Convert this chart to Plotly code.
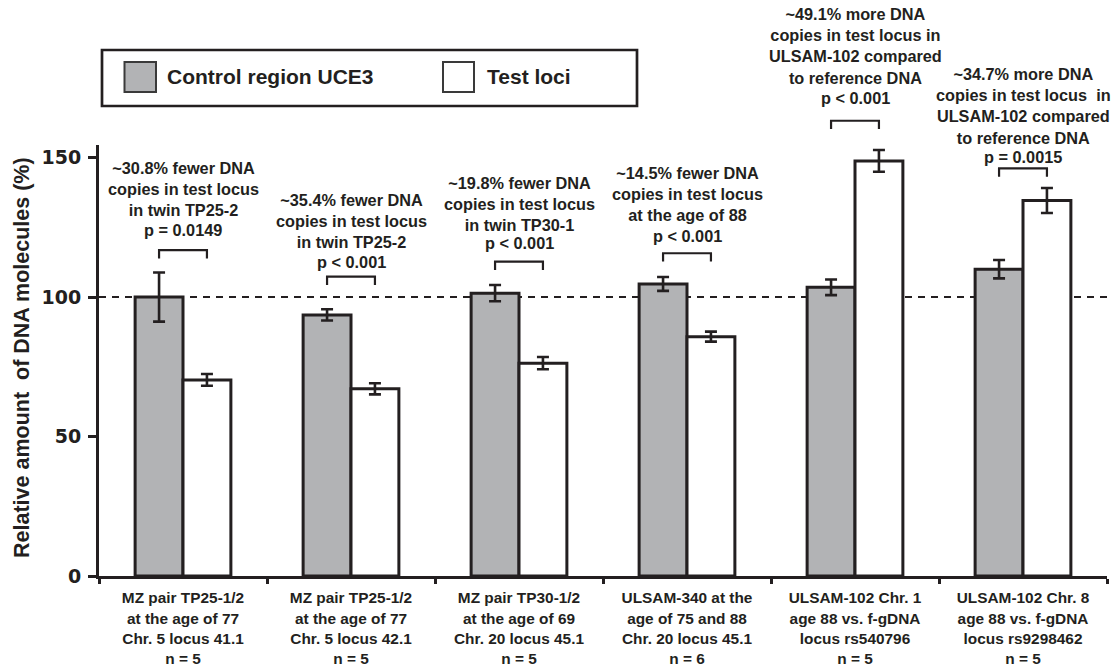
import plotly.graph_objects as go

# ---------------- data ----------------
categories = [
    "MZ pair TP25-1/2<br>at the age of 77<br>Chr. 5 locus 41.1<br>n = 5",
    "MZ pair TP25-1/2<br>at the age of 77<br>Chr. 5 locus 42.1<br>n = 5",
    "MZ pair TP30-1/2<br>at the age of 69<br>Chr. 20 locus 45.1<br>n = 5",
    "ULSAM-340 at the<br>age of 75 and 88<br>Chr. 20 locus 45.1<br>n = 6",
    "ULSAM-102 Chr. 1<br>age 88 vs. f-gDNA<br>locus rs540796<br>n = 5",
    "ULSAM-102 Chr. 8<br>age 88 vs. f-gDNA<br>locus rs9298462<br>n = 5",
]
control_values = [100.0, 93.6, 101.4, 104.7, 103.5, 110.0]
control_err = [8.8, 2.0, 2.9, 2.5, 2.8, 3.3]
test_values = [70.3, 67.1, 76.3, 85.8, 148.8, 134.6]
test_err = [2.1, 2.0, 2.2, 1.8, 3.9, 4.5]
notes = [
    "~30.8% fewer DNA<br>copies in test locus<br>in twin TP25-2",
    "~35.4% fewer DNA<br>copies in test locus<br>in twin TP25-2",
    "~19.8% fewer DNA<br>copies in test locus<br>in twin TP30-1",
    "~14.5% fewer DNA<br>copies in test locus<br>at the age of 88",
    "~49.1% more DNA<br>copies in test locus in<br>ULSAM-102 compared<br>to reference DNA",
    "~34.7% more DNA<br>copies in test locus\u00a0 in<br>ULSAM-102 compared<br>to reference DNA",
]
p_texts = ["p = 0.0149", "p < 0.001", "p < 0.001", "p < 0.001", "p < 0.001", "p = 0.0015"]
y_ticks = [0, 50, 100, 150]
reference_level = 100

# ---------------- layout positions (axis units) ----------------
bracket_top = [116.8, 107.3, 112.7, 115.7, 163.2, 146.1]
note_center = [138.9, 127.4, 133.3, 136.8, 189.9, 168.4]
p_center = [124.2, 112.5, 119.3, 122.0, 171.2, 150.3]
BRACKET_LEG = 3.0

# ---------------- styles ----------------
DARK = "#231f20"
GRAY = "#b2b3b5"
FONT = "Liberation Sans, Arial, Helvetica, sans-serif"
W, H = 1120, 669
X_LEFT, X_RIGHT, Y_TOP, Y_BOTTOM = 99, 1107, 145, 576   # plot area in page pixels
ML, MR = X_LEFT, W - X_RIGHT
MT, MB = Y_TOP, H - Y_BOTTOM
YMAX = 154.5
BARGAP = 0.43
N = len(categories)
plot_w = X_RIGHT - X_LEFT
plot_h = Y_BOTTOM - Y_TOP


def px_x(p):
    return (p - X_LEFT) / plot_w


def px_y(p):
    return (Y_BOTTOM - p) / plot_h


def yp(v):
    return v / YMAX


def xp(c):
    return (c + 0.5) / N


fig = go.Figure()
err_style = dict(type="data", color=DARK, thickness=2.6, width=6)
fig.add_bar(
    x=categories, y=control_values, name="Control region UCE3",
    marker=dict(color=GRAY, line=dict(color=DARK, width=3)),
    error_y=dict(array=control_err, **err_style),
)
fig.add_bar(
    x=categories, y=test_values, name="Test loci",
    marker=dict(color="white", line=dict(color=DARK, width=3)),
    error_y=dict(array=test_err, **err_style),
)

shapes = []
# reference dashed line
shapes.append(dict(type="line", xref="paper", yref="y", x0=0, x1=1,
                   y0=reference_level, y1=reference_level, layer="below",
                   line=dict(color=DARK, width=2, dash="7px,6px")))

half = (1 - BARGAP) / 4.0  # offset of each bar centre from category centre
annotations = []
NOTE_FONT = dict(family=FONT, size=16.3, color=DARK)
for i in range(N):
    xa = xp(i - half)
    xb = xp(i + half)
    top = yp(bracket_top[i])
    leg = yp(bracket_top[i] - BRACKET_LEG)
    shapes.append(dict(type="path", xref="paper", yref="paper",
                       path=f"M{xa},{leg} L{xa},{top} L{xb},{top} L{xb},{leg}",
                       line=dict(color=DARK, width=2.2)))
    annotations.append(dict(text="<b>" + notes[i] + "</b>", xref="paper", yref="paper",
                            x=xp(i), y=yp(note_center[i]), xanchor="center", yanchor="middle",
                            showarrow=False, font=NOTE_FONT))
    annotations.append(dict(text="<b>" + p_texts[i] + "</b>", xref="paper", yref="paper",
                            x=xp(i), y=yp(p_center[i]), xanchor="center", yanchor="middle",
                            showarrow=False, font=NOTE_FONT))

# legend box (drawn manually)
shapes.append(dict(type="rect", xref="paper", yref="paper",
                   x0=px_x(102), x1=px_x(637), y0=px_y(106), y1=px_y(50),
                   line=dict(color=DARK, width=2.7), fillcolor="white"))
shapes.append(dict(type="rect", xref="paper", yref="paper",
                   x0=px_x(124.5), x1=px_x(156), y0=px_y(92), y1=px_y(62),
                   line=dict(color="#3a3a3a", width=2), fillcolor=GRAY))
shapes.append(dict(type="rect", xref="paper", yref="paper",
                   x0=px_x(443), x1=px_x(474), y0=px_y(92), y1=px_y(62),
                   line=dict(color="#3a3a3a", width=2), fillcolor="white"))
annotations.append(dict(text="<b>Control region UCE3</b>", xref="paper", yref="paper",
                        x=px_x(165), y=px_y(77), xanchor="left", yanchor="middle",
                        showarrow=False, font=dict(family=FONT, size=21, color=DARK)))
annotations.append(dict(text="<b>Test loci</b>", xref="paper", yref="paper",
                        x=px_x(485), y=px_y(77), xanchor="left", yanchor="middle",
                        showarrow=False, font=dict(family=FONT, size=21, color=DARK)))
# y-axis title
annotations.append(dict(text="<b>Relative amount\u00a0 of DNA molecules (%)</b>", xref="paper", yref="paper",
                        x=px_x(22), y=px_y(358), xanchor="center", yanchor="middle", textangle=-90,
                        showarrow=False, font=dict(family=FONT, size=21.5, color=DARK)))

fig.update_layout(
    width=W, height=H,
    margin=dict(l=ML, r=MR, t=MT, b=MB, pad=0, autoexpand=False),
    paper_bgcolor="white", plot_bgcolor="white",
    barmode="group", bargap=BARGAP, bargroupgap=0,
    showlegend=False,
    shapes=shapes, annotations=annotations,
    font=dict(family=FONT, color=DARK),
    xaxis=dict(
        range=[-0.5, N - 0.5], showgrid=False, zeroline=False, automargin=False,
        showline=True, linecolor=DARK, linewidth=3,
        ticks="outside", tickson="boundaries", ticklen=5, tickwidth=2.5, tickcolor=DARK,
        ticklabelstandoff=6,
        tickfont=dict(family=FONT, size=15.4, color=DARK, weight="bold"),
    ),
    yaxis=dict(
        range=[0, YMAX], showgrid=False, zeroline=False, automargin=False,
        showline=True, linecolor=DARK, linewidth=3,
        tickmode="array", tickvals=y_ticks, ticktext=[str(v) for v in y_ticks],
        ticks="outside", ticklen=8, tickwidth=2.5, tickcolor=DARK, ticklabelstandoff=3,
        tickfont=dict(family="DejaVu Sans, " + FONT, size=19, color=DARK, weight="bold"),
    ),
)

# remove the browser's default 8px body margin so the figure sits at the page origin
fig.write_html("out.html", config={"displayModeBar": False},
               post_script="document.body.style.margin='0';document.body.style.overflow='hidden';")
